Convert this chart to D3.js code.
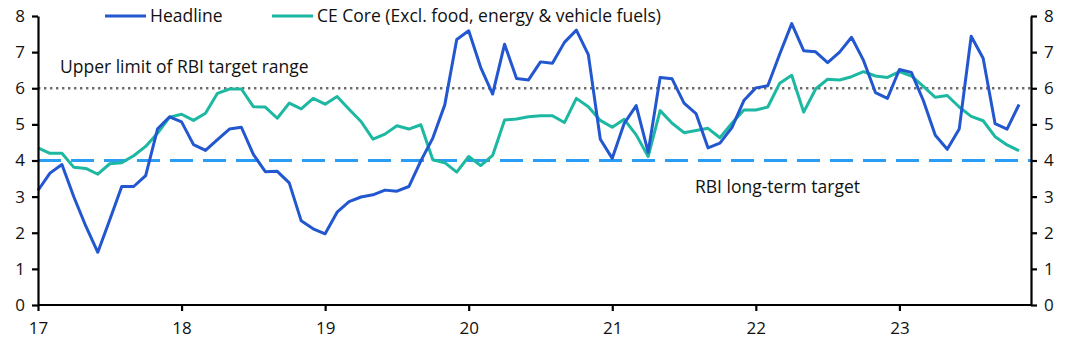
<!DOCTYPE html>
<html><head><meta charset="utf-8">
<script src="https://cdn.jsdelivr.net/npm/d3@7"></script>
<style>body{margin:0;background:#fff}svg{display:block}text{font-family:"Open Sans",sans-serif;fill:#111}</style>
</head><body><div id="chart"></div>
<script>
const startYear = 17;
const xTickLabels = ["17","18","19","20","21","22","23"];
const yTicks = [0,1,2,3,4,5,6,7,8];
const headline = [3.17,3.65,3.89,2.99,2.18,1.46,2.36,3.28,3.28,3.58,4.88,5.21,
 5.07,4.44,4.28,4.58,4.87,4.92,4.17,3.69,3.70,3.38,2.33,2.11,
 1.97,2.57,2.86,2.99,3.05,3.18,3.15,3.28,3.99,4.62,5.54,7.35,
 7.59,6.58,5.84,7.22,6.27,6.23,6.73,6.69,7.27,7.61,6.93,4.59,
 4.06,5.03,5.52,4.23,6.30,6.26,5.59,5.30,4.35,4.48,4.91,5.66,
 6.01,6.07,6.95,7.79,7.04,7.01,6.71,7.00,7.41,6.77,5.88,5.72,
 6.52,6.44,5.66,4.70,4.31,4.87,7.44,6.83,5.02,4.87,5.55];
const core = [4.35,4.20,4.20,3.81,3.78,3.62,3.91,3.94,4.13,4.39,4.76,5.20,
 5.28,5.11,5.31,5.86,5.98,5.98,5.49,5.48,5.17,5.59,5.43,5.72,
 5.56,5.77,5.42,5.08,4.59,4.73,4.96,4.87,4.99,4.02,3.94,3.68,
 4.11,3.86,4.14,5.12,5.15,5.21,5.24,5.24,5.05,5.72,5.49,5.11,
 4.92,5.14,4.71,4.11,5.38,5.03,4.77,4.83,4.89,4.63,5.03,5.40,
 5.40,5.48,6.14,6.36,5.34,5.98,6.25,6.23,6.32,6.46,6.34,6.30,
 6.46,6.34,6.05,5.75,5.80,5.48,5.22,5.10,4.66,4.43,4.27];
const upperLimit = 6;
const longTermTarget = 4;
const seriesNames = ["Headline","CE Core (Excl. food, energy & vehicle fuels)"];
const annotations = ["Upper limit of RBI target range","RBI long-term target"];

const W=1067,H=350;
const m={l:38,r:36,t:16,b:45};
const svg=d3.select("#chart").append("svg").attr("width",W).attr("height",H);
const x=d3.scaleLinear().domain([0,83]).range([m.l,W-m.r]);
const y=d3.scaleLinear().domain([0,8]).range([H-m.b,m.t]);

// reference lines
svg.append("line").attr("x1",x(0)).attr("x2",x(83)).attr("y1",y(upperLimit)).attr("y2",y(upperLimit))
 .attr("stroke","#6e6e6e").attr("stroke-width",2.4).attr("stroke-dasharray","2.4,3.6");
svg.append("line").attr("x1",x(0)).attr("x2",x(83)).attr("y1",y(longTermTarget)).attr("y2",y(longTermTarget))
 .attr("stroke","#2a9df4").attr("stroke-width",3).attr("stroke-dasharray","23,10");

const line=d3.line().x((d,i)=>x(i)).y(d=>y(d));
svg.append("path").datum(core).attr("d",line).attr("fill","none").attr("stroke","#1cb8a2").attr("stroke-width",3).attr("stroke-linejoin","round");
svg.append("path").datum(headline).attr("d",line).attr("fill","none").attr("stroke","#2257cf").attr("stroke-width",3).attr("stroke-linejoin","round");

// axes
const fs=17.5, tfs=17;
const xAxis=d3.axisBottom(x).tickValues(xTickLabels.map((d,i)=>i*12)).tickFormat((d,i)=>xTickLabels[i]).tickSize(6).tickSizeOuter(0);
const gx=svg.append("g").attr("transform",`translate(0,${y(0)})`).call(xAxis);
const yl=svg.append("g").attr("transform",`translate(${m.l},0)`).call(d3.axisLeft(y).tickValues(yTicks).tickSize(6).tickSizeOuter(0).tickPadding(7));
const yr=svg.append("g").attr("transform",`translate(${W-m.r},0)`).call(d3.axisRight(y).tickValues(yTicks).tickSize(6).tickSizeOuter(0).tickPadding(7));
[gx,yl,yr].forEach(g=>{g.selectAll("path,line").attr("stroke","#000").attr("stroke-width",2.2);g.selectAll("text").attr("font-size",tfs).attr("font-family","'Open Sans',sans-serif").attr("fill","#111");});
gx.selectAll("text").attr("dy","1.15em");
gx.select(".domain").attr("d",`M${m.l},0H${W-m.r}`);

// legend
const leg=[{n:seriesNames[0],c:"#2257cf",x:105},{n:seriesNames[1],c:"#1cb8a2",x:272}];
leg.forEach(l=>{
 svg.append("line").attr("x1",l.x).attr("x2",l.x+41).attr("y1",16).attr("y2",16).attr("stroke",l.c).attr("stroke-width",3);
 svg.append("text").attr("x",l.x+45).attr("y",22).attr("font-size",fs).text(l.n);
});
svg.append("text").attr("x",60).attr("y",73).attr("font-size",fs).text(annotations[0]);
svg.append("text").attr("x",695).attr("y",193).attr("font-size",fs).text(annotations[1]);
</script></body></html>
